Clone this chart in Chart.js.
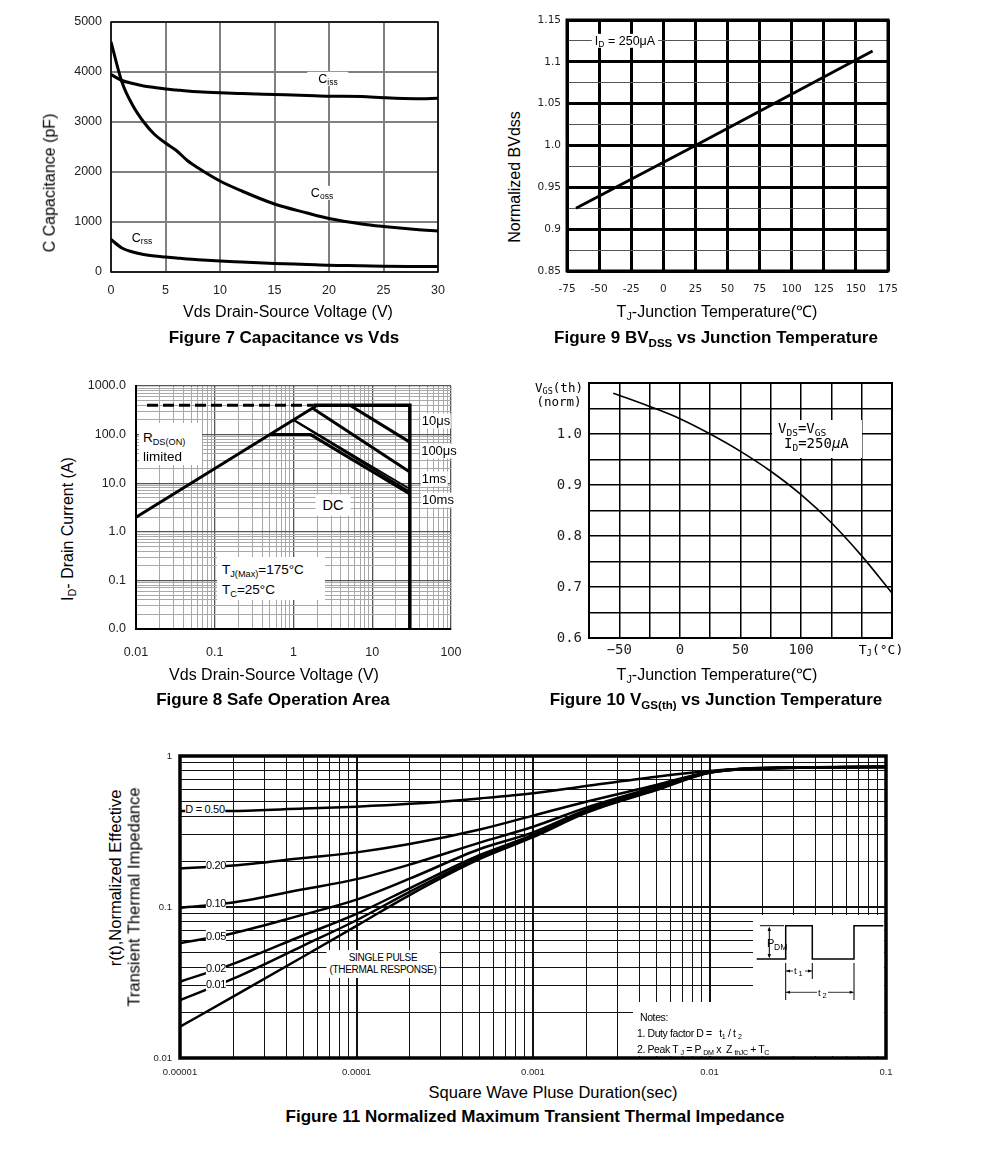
<!DOCTYPE html>
<html>
<head>
<meta charset="utf-8">
<script src="https://cdn.jsdelivr.net/npm/chart.js@4.4.1/dist/chart.umd.min.js"></script>
<style>
  body { margin: 0; background: #fff; }
  #page { position: relative; width: 991px; height: 1152px; overflow: hidden;
          font-family: Arial, "Liberation Sans", sans-serif; color: #000; }
  canvas { position: absolute; }
  .tx { position: absolute; white-space: nowrap; transform: translate(-50%, -50%); line-height: 1.15; }
  .tl { position: absolute; white-space: nowrap; transform: translateY(-50%); line-height: 1.15; }
  .yt { transform: translate(-50%, -50%) rotate(-90deg); }
  .ax { font-size: 16px; }
  .fig { font-size: 17px; font-weight: bold; }
  .bg { background: #fff; }
  .mono { font-family: "DejaVu Sans Mono", monospace; }
  sub { font-size: 0.68em; vertical-align: -0.3em; line-height: 0; }
  .wb { position: absolute; background: #fff; }
</style>
</head>
<body>
<div id="page">
  <canvas id="c7" width="400" height="305" style="left:50px;top:10px"></canvas>
  <canvas id="c9" width="375" height="300" style="left:530px;top:8px"></canvas>
  <canvas id="c8" width="385" height="290" style="left:80px;top:376px"></canvas>
  <canvas id="c10" width="360" height="295" style="left:545px;top:373px"></canvas>
  <canvas id="c11" width="760" height="335" style="left:140px;top:746px"></canvas>

  <!-- Figure 7 -->
  <div class="tx yt ax" style="left:50px;top:183px">C Capacitance (pF)</div>
  <div class="tx ax" style="left:288px;top:312px">Vds Drain-Source Voltage (V)</div>
  <div class="tx fig" style="left:284px;top:338px">Figure 7 Capacitance vs Vds</div>
  <div class="tx bg" style="left:328px;top:79px;font-size:12.5px;padding:0 11px">C<sub>iss</sub></div>
  <div class="tx bg" style="left:322px;top:193px;font-size:12.5px;padding:0 2px">C<sub>oss</sub></div>
  <div class="tx bg" style="left:142px;top:238px;font-size:12.5px;padding:0 2px">C<sub>rss</sub></div>

  <!-- Figure 9 -->
  <div class="tx yt ax" style="left:515px;top:177px">Normalized BVdss</div>
  <div class="tx ax" style="left:717px;top:312px">T<sub>J</sub>-Junction Temperature(℃)</div>
  <div class="tx fig" style="left:716px;top:338px">Figure 9 BV<sub>DSS</sub> vs Junction Temperature</div>
  <div class="tx bg" style="left:625px;top:41px;font-size:12.5px;padding:0 3px">I<sub>D</sub> = 250μA</div>

  <!-- Figure 8 -->
  <div class="tx yt ax" style="left:68px;top:529px">I<sub>D</sub>- Drain Current (A)</div>
  <div class="tx ax" style="left:274px;top:675px">Vds Drain-Source Voltage (V)</div>
  <div class="tx fig" style="left:273px;top:700px">Figure 8 Safe Operation Area</div>
  <div class="wb" style="left:139px;top:423px;width:63px;height:42px"></div>
  <div class="tl" style="left:143px;top:438px;font-size:13.5px">R<sub>DS(ON)</sub></div>
  <div class="tl" style="left:143px;top:457px;font-size:13.5px">limited</div>
  <div class="tx bg" style="left:333px;top:505px;font-size:14.5px;padding:2px 7px">DC</div>
  <div class="wb" style="left:217px;top:557px;width:108px;height:43px"></div>
  <div class="tl" style="left:222px;top:570px;font-size:13.5px">T<sub>J(Max)</sub>=175°C</div>
  <div class="tl" style="left:222px;top:590px;font-size:13.5px">T<sub>C</sub>=25°C</div>
  <div class="tx bg" style="left:436px;top:421px;font-size:13px;padding:0 1px">10μs</div>
  <div class="tx bg" style="left:439px;top:451px;font-size:13px;padding:0 1px">100μs</div>
  <div class="tx bg" style="left:434px;top:479px;font-size:13px;padding:0 1px">1ms</div>
  <div class="tx bg" style="left:438px;top:500px;font-size:13px;padding:0 1px">10ms</div>

  <!-- Figure 10 -->
  <div class="tx mono" style="left:559px;top:388px;font-size:12.5px">V<sub>GS</sub>(th)</div>
  <div class="tx mono" style="left:559px;top:402px;font-size:12.5px">(norm)</div>
  <div class="tx mono" style="left:881px;top:650px;font-size:13px">T<sub>J</sub>(°C)</div>
  <div class="wb" style="left:772px;top:420px;width:90px;height:38px"></div>
  <div class="tl mono" style="left:778px;top:428px;font-size:14px">V<sub>DS</sub>=V<sub>GS</sub></div>
  <div class="tl mono" style="left:784px;top:443px;font-size:14px">I<sub>D</sub>=250<i>μ</i>A</div>
  <div class="tx ax" style="left:717px;top:675px">T<sub>J</sub>-Junction Temperature(℃)</div>
  <div class="tx fig" style="left:716px;top:700px">Figure 10 V<sub>GS(th)</sub> vs Junction Temperature</div>

  <!-- Figure 11 -->
  <div class="tx yt" style="left:115px;top:878px;font-size:16.5px">r(t),Normalized Effective</div>
  <div class="tx yt" style="left:134px;top:897px;font-size:16.5px">Transient Thermal Impedance</div>
  <div class="tx" style="left:553px;top:1092px;font-size:16.5px">Square Wave Pluse Duration(sec)</div>
  <div class="tx fig" style="left:535px;top:1117px">Figure 11 Normalized Maximum Transient Thermal Impedance</div>
  <div class="tx bg" style="left:205px;top:809px;font-size:11px;letter-spacing:-0.3px">D = 0.50</div>
  <div class="tx bg" style="left:216px;top:865px;font-size:11px;letter-spacing:-0.3px">0.20</div>
  <div class="tx bg" style="left:216px;top:903px;font-size:11px;letter-spacing:-0.3px">0.10</div>
  <div class="tx bg" style="left:216px;top:936px;font-size:11px;letter-spacing:-0.3px">0.05</div>
  <div class="tx bg" style="left:216px;top:968px;font-size:11px;letter-spacing:-0.3px">0.02</div>
  <div class="tx bg" style="left:216px;top:984px;font-size:11px;letter-spacing:-0.3px">0.01</div>
  <div class="tx bg" style="left:383px;top:964px;font-size:10px;letter-spacing:-0.3px;text-align:center;padding:2px 3px;line-height:1.2">SINGLE PULSE<br>(THERMAL RESPONSE)</div>
  <div class="wb" style="left:753px;top:915px;width:131px;height:141px"></div>
  <div class="wb" style="left:633px;top:1002px;width:251px;height:54px"></div>
  <svg style="position:absolute;left:740px;top:910px" width="150" height="150" font-family="Arial, Liberation Sans, sans-serif">
    <polyline points="16.7,49 45.7,49 45.7,15.7 72.3,15.7 72.3,49 114,49 114,15.7 143.3,15.7" fill="none" stroke="#000" stroke-width="1.5"/>
    <line x1="20" y1="15.7" x2="44" y2="15.7" stroke="#000" stroke-width="1"/>
    <line x1="29.3" y1="18" x2="29.3" y2="47" stroke="#000" stroke-width="1"/>
    <path d="M29.3 16.5 L27.6 21 L31 21 Z M29.3 48.3 L27.6 44 L31 44 Z" fill="#000"/>
    <text x="27" y="37" font-size="11">P</text>
    <text x="34" y="40" font-size="8.5">DM</text>
    <line x1="45.7" y1="53" x2="45.7" y2="90" stroke="#000" stroke-width="1"/>
    <line x1="72.3" y1="53" x2="72.3" y2="69" stroke="#000" stroke-width="1"/>
    <line x1="114" y1="53" x2="114" y2="90" stroke="#000" stroke-width="1"/>
    <line x1="46" y1="61" x2="53" y2="61" stroke="#000" stroke-width="0.8"/>
    <line x1="65" y1="61" x2="72" y2="61" stroke="#000" stroke-width="0.8"/>
    <path d="M46 61 L50 59.5 L50 62.5 Z M72 61 L68 59.5 L68 62.5 Z" fill="#000"/>
    <text x="54" y="64" font-size="9.5">t</text>
    <text x="58.5" y="66" font-size="7.5">1</text>
    <line x1="46" y1="82.3" x2="77" y2="82.3" stroke="#000" stroke-width="0.8"/>
    <line x1="88" y1="82.3" x2="113.7" y2="82.3" stroke="#000" stroke-width="0.8"/>
    <path d="M46 82.3 L50 80.8 L50 83.8 Z M113.7 82.3 L109.7 80.8 L109.7 83.8 Z" fill="#000"/>
    <text x="78" y="85.5" font-size="9.5">t</text>
    <text x="82.5" y="87.5" font-size="7.5">2</text>
  </svg>
  <div class="tl" style="left:640px;top:1017px;font-size:10.5px;letter-spacing:-0.4px">Notes:</div>
  <div class="tl" style="left:637px;top:1033px;font-size:10.5px;letter-spacing:-0.4px">1. Duty factor D = &nbsp;&nbsp;t<sub>1</sub> / t <sub>2</sub></div>
  <div class="tl" style="left:637px;top:1049px;font-size:10.5px;letter-spacing:-0.4px">2. Peak T <sub>J</sub> = P <sub>DM</sub> x &nbsp;Z <sub>thJC</sub> + T<sub>C</sub></div>
</div>

<script>
// ---- Figure 7: capacitance vs Vds ----
var capVds  = [0, 1, 2, 3, 4, 5, 6, 7, 8, 10, 12, 15, 18, 20, 23, 25, 28, 30];
var cissPf  = [3950, 3830, 3770, 3720, 3690, 3660, 3640, 3620, 3605, 3585, 3570, 3550, 3530, 3515, 3510, 3485, 3465, 3475];
var cossPf  = [4600, 3800, 3330, 3000, 2750, 2580, 2430, 2230, 2080, 1820, 1620, 1360, 1180, 1070, 960, 910, 850, 820];
var crssPf  = [650, 480, 400, 350, 320, 300, 280, 260, 245, 220, 200, 170, 150, 135, 125, 115, 112, 112];
var capXTicks = [0, 5, 10, 15, 20, 25, 30];
var capYTicks = [0, 1000, 2000, 3000, 4000, 5000];

// ---- Figure 9: BVdss vs Tj ----
var bvTemp = [-68, 25, 163];
var bvNorm = [0.925, 1.0, 1.113];
var bvXTicks = [-75, -50, -25, 0, 25, 50, 75, 100, 125, 150, 175];
var bvYTicks = [0.85, 0.875, 0.9, 0.925, 0.95, 0.975, 1.0, 1.025, 1.05, 1.075, 1.1, 1.125, 1.15];

// ---- Figure 8: safe operating area ----
var soaDashV = [0.0138, 1.8],  soaDashI = [400, 400];
var rdsV     = [0.01, 2.0],    rdsI     = [2, 400];
var limV     = [1.8, 30, 30],  limI     = [400, 400, 0.01];
var us10V    = [5.2, 30],      us10I    = [400, 70];
var us100V   = [1.75, 30],     us100I   = [350, 17];
var ms1V     = [1.0, 30],      ms1I     = [200, 7.6];
var ms10V    = [1.0, 30],      ms10I    = [200, 6.6];
var dcV      = [0.5, 1.65, 30], dcI     = [100, 100, 6.0];

// ---- Figure 10: Vgs(th) vs Tj ----
var vgsTemp = [-55, -25, 0, 25, 50, 75, 100, 125, 150, 175];
var vgsNorm = [1.08, 1.054, 1.03, 1.0, 0.966, 0.927, 0.881, 0.826, 0.761, 0.688];
var vgsXTicks = [-75, -50, -25, 0, 25, 50, 75, 100, 125, 150, 175];
var vgsYTicks = [0.6, 0.65, 0.7, 0.75, 0.8, 0.85, 0.9, 0.95, 1.0, 1.05, 1.1];
var vgsXLabels = [-50, 0, 50, 100];

// ---- Figure 11: transient thermal impedance ----
var thermT  = [1e-5, 2e-5, 5e-5, 1e-4, 2e-4, 5e-4, 1e-3, 2e-3, 5e-3, 1e-2, 2e-2, 5e-2, 1e-1];
var zD50    = [0.432, 0.433, 0.449, 0.462, 0.482, 0.524, 0.566, 0.633, 0.73, 0.795, 0.835, 0.845, 0.848];
var zD20    = [0.18, 0.188, 0.211, 0.23, 0.261, 0.326, 0.403, 0.498, 0.643, 0.785, 0.83, 0.843, 0.845];
var zD10    = [0.099, 0.107, 0.131, 0.153, 0.191, 0.267, 0.34, 0.455, 0.625, 0.782, 0.83, 0.843, 0.845];
var zD05    = [0.0575, 0.067, 0.089, 0.112, 0.154, 0.242, 0.312, 0.44, 0.615, 0.78, 0.828, 0.842, 0.845];
var zD02    = [0.032, 0.042, 0.065, 0.09, 0.133, 0.221, 0.30, 0.43, 0.605, 0.778, 0.828, 0.842, 0.845];
var zD01    = [0.0242, 0.0335, 0.0555, 0.0817, 0.126, 0.214, 0.295, 0.425, 0.60, 0.777, 0.827, 0.842, 0.845];
var zSingle = [0.0161, 0.0255, 0.047, 0.075, 0.12, 0.208, 0.29, 0.42, 0.595, 0.775, 0.827, 0.842, 0.845];

// log grid positions, 1..9 per decade
function logTicks(e0, e1) {
  var out = [];
  for (var e = e0; e < e1; e++)
    for (var m = 1; m < 10; m++) out.push(+(m * Math.pow(10, e)).toPrecision(3));
  out.push(Math.pow(10, e1));
  return out;
}
function isDecade(v) {
  var l = Math.log10(v);
  return Math.abs(l - Math.round(l)) < 1e-6;
}
function near(a, b) { return Math.abs(a - b) < 1e-6; }

function xy(xs, ys) {
  return xs.map(function (x, i) { return { x: x, y: ys[i] }; });
}
function line(xs, ys, w, extra) {
  return Object.assign({
    data: xy(xs, ys), borderColor: '#000', borderWidth: w, pointRadius: 0,
    fill: false, cubicInterpolationMode: 'monotone'
  }, extra || {});
}

var framePlugin = {
  id: 'frame',
  beforeDatasetsDraw: function (chart, args, opts) {
    if (!opts.width) return;
    var ctx = chart.ctx, a = chart.chartArea;
    ctx.save();
    ctx.strokeStyle = opts.color || '#000';
    ctx.lineWidth = opts.width;
    ctx.strokeRect(a.left, a.top, a.right - a.left, a.bottom - a.top);
    ctx.restore();
  }
};

function axis(o) {
  return {
    type: o.type || 'linear',
    min: o.min, max: o.max,
    afterFit: function (s) {
      if (s.isHorizontal()) s.height = o.size; else s.width = o.size;
      // keep the plot box fixed; labels spill into the layout padding
      s.paddingLeft = s.paddingRight = s.paddingTop = s.paddingBottom = 0;
    },
    afterBuildTicks: function (s) { s.ticks = o.ticks.map(function (v) { return { value: v }; }); },
    grid: { drawTicks: false, color: o.gridColor || '#000', lineWidth: o.gridWidth || 1 },
    border: o.border || { display: false },
    ticks: {
      autoSkip: false, maxRotation: 0, minRotation: 0, padding: o.pad,
      color: o.tickColor || '#222', font: o.font, callback: o.label
    }
  };
}

function make(id, datasets, xAx, yAx, pad, frame) {
  return new Chart(document.getElementById(id), {
    type: 'line',
    data: { datasets: datasets },
    options: {
      responsive: false, animation: false, events: [],
      layout: { padding: pad },
      plugins: { legend: { display: false }, tooltip: { enabled: false }, frame: frame },
      scales: { x: xAx, y: yAx }
    },
    plugins: [framePlugin]
  });
}

var arial = 'Arial, "Liberation Sans", sans-serif';

// Figure 7
make('c7',
  [line(capVds, cissPf, 3), line(capVds, cossPf, 3), line(capVds, crssPf, 3)],
  axis({ min: 0, max: 30, ticks: capXTicks, size: 43, pad: 11, gridColor: '#808080', gridWidth: 2,
         font: { family: arial, size: 12.5 } }),
  axis({ min: 0, max: 5000, ticks: capYTicks, size: 61, pad: 9, gridColor: '#808080', gridWidth: 2,
         font: { family: arial, size: 12.5 } }),
  { left: 0, top: 12, right: 12, bottom: 0 },
  { color: '#000', width: 1.5 });

// Figure 9
make('c9',
  [line(bvTemp, bvNorm, 3, { cubicInterpolationMode: 'default', tension: 0 })],
  axis({ min: -75, max: 175, ticks: bvXTicks, size: 37, pad: 12, gridColor: '#000', gridWidth: 3,
         font: { family: '"DejaVu Sans", sans-serif', size: 10.5 } }),
  axis({ min: 0.85, max: 1.15, ticks: bvYTicks, size: 37, pad: 6,
         gridColor: function (c) { return Math.round(c.tick.value * 1000) % 50 === 0 ? '#000' : '#555'; },
         gridWidth: function (c) { return Math.round(c.tick.value * 1000) % 50 === 0 ? 3 : 1; },
         font: { family: '"DejaVu Sans", sans-serif', size: 10.5 },
         label: function (v) {
           if (Math.round(v * 1000) % 50 !== 0) return '';
           return near(v, 1) ? '1.0' : String(+v.toFixed(2));
         } }),
  { left: 0, top: 12, right: 17, bottom: 0 },
  { color: '#000', width: 3 });

// Figure 8
var soaGridColor = function (c) { return isDecade(c.tick.value) ? '#555' : '#a8a8a8'; };
var soaGridWidth = function (c) { return isDecade(c.tick.value) ? 1.3 : 1; };
make('c8',
  [line(soaDashV, soaDashI, 3, { borderDash: [11, 5] }),
   line(rdsV, rdsI, 3), line(limV, limI, 3.5), line(us10V, us10I, 3), line(us100V, us100I, 3),
   line(ms1V, ms1I, 2), line(ms10V, ms10I, 2), line(dcV, dcI, 3, { cubicInterpolationMode: 'default', tension: 0 })],
  axis({ type: 'logarithmic', min: 0.01, max: 100, ticks: logTicks(-2, 2), size: 37, pad: 16,
         gridColor: soaGridColor, gridWidth: soaGridWidth, border: { display: true, color: '#000', width: 2 },
         font: { family: arial, size: 12.5 },
         label: function (v) { return isDecade(v) ? String(v) : ''; } }),
  axis({ type: 'logarithmic', min: 0.01, max: 1000, ticks: logTicks(-2, 3), size: 56, pad: 10,
         gridColor: soaGridColor, gridWidth: soaGridWidth, border: { display: true, color: '#000', width: 2 },
         font: { family: arial, size: 12.5 },
         label: function (v) { return isDecade(v) ? v.toFixed(1) : ''; } }),
  { left: 0, top: 10, right: 14, bottom: 0 },
  {});

// Figure 10
var mono = '"DejaVu Sans Mono", monospace';
make('c10',
  [line(vgsTemp, vgsNorm, 1.6)],
  axis({ min: -75, max: 175, ticks: vgsXTicks, size: 30, pad: 4, gridWidth: 1.5,
         font: { family: mono, size: 14 },
         label: function (v) {
           if (vgsXLabels.indexOf(v) < 0) return '';
           return v < 0 ? '\u2212' + Math.abs(v) : String(v);
         } }),
  axis({ min: 0.6, max: 1.1, ticks: vgsYTicks, size: 44, pad: 7, gridWidth: 1.5,
         font: { family: mono, size: 14 },
         label: function (v) {
           var k = Math.round(v * 100);
           return (k % 10 === 0 && k <= 100) ? v.toFixed(1) : '';
         } }),
  { left: 0, top: 10, right: 13, bottom: 0 },
  { color: '#000', width: 2 });

// Figure 11
var thGridWidth = function (c) { return isDecade(c.tick.value) ? 2 : 1; };
var thLine = { cubicInterpolationMode: 'monotone' };
make('c11',
  [line(thermT, zD50, 2.5, thLine), line(thermT, zD20, 2.5, thLine), line(thermT, zD10, 2.5, thLine),
   line(thermT, zD05, 2.5, thLine), line(thermT, zD02, 2.5, thLine), line(thermT, zD01, 2.5, thLine),
   line(thermT, zSingle, 2.5, thLine)],
  axis({ type: 'logarithmic', min: 1e-5, max: 0.1, ticks: logTicks(-5, -1), size: 23, pad: 9,
         gridColor: '#111', gridWidth: thGridWidth,
         font: { family: arial, size: 9.5 },
         label: function (v) {
           if (!isDecade(v)) return '';
           return v.toFixed(Math.max(0, -Math.round(Math.log10(v))));
         } }),
  axis({ type: 'logarithmic', min: 0.01, max: 1, ticks: logTicks(-2, 0), size: 40, pad: 8,
         gridColor: '#111', gridWidth: thGridWidth,
         font: { family: arial, size: 9.5 },
         label: function (v) {
           if (!isDecade(v)) return '';
           return v.toFixed(Math.max(0, -Math.round(Math.log10(v))));
         } }),
  { left: 0, top: 10, right: 14, bottom: 0 },
  { color: '#000', width: 3.5 });
</script>
</body>
</html>
